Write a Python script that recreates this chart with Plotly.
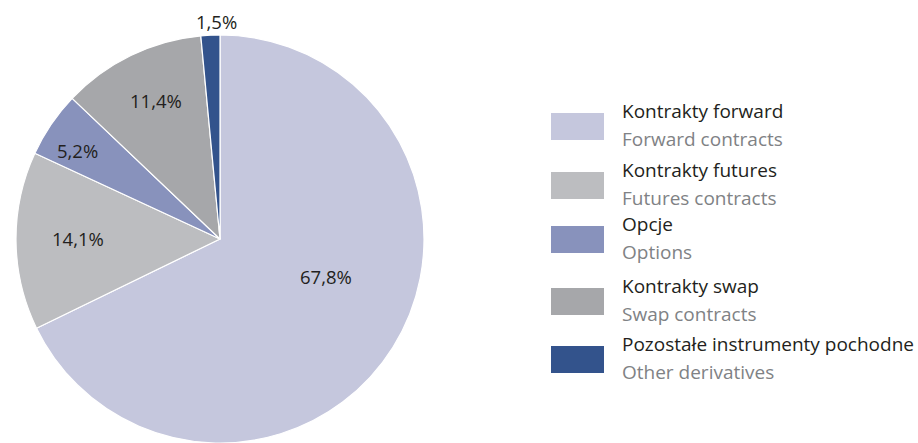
import math
import plotly.graph_objects as go

# Structure of derivative instruments (share of total, %)
labels_pl = ["Kontrakty forward", "Kontrakty futures", "Opcje", "Kontrakty swap",
             "Pozostałe instrumenty pochodne"]
labels_en = ["Forward contracts", "Futures contracts", "Options", "Swap contracts",
             "Other derivatives"]
shares = [67.8, 14.1, 5.2, 11.4, 1.5]

colors = ["#C5C7DD", "#BCBDC0", "#8892BC", "#A6A7AA", "#33538C"]

W, H = 918, 443
FONT = "Open Sans"
DARK = "#231F20"
GREY = "#808285"

# pie geometry in pixels
cx, cy, R = 220, 239, 204

# label placement per slice: (radius fraction, angular nudge in degrees)
label_place = [(0.553, -12.7), (0.698, 0.9), (0.822, -2.3), (0.747, 1.0), (1.066, 1.8)]

fig = go.Figure(go.Pie(
    labels=labels_pl,
    values=shares,
    sort=False,
    direction="clockwise",
    rotation=0,
    marker=dict(colors=colors, line=dict(color="white", width=1.2)),
    textinfo="none",
    hoverinfo="label+percent",
    showlegend=False,
    domain=dict(x=[(cx - R) / W, (cx + R) / W], y=[(H - cy - R) / H, (H - cy + R) / H]),
))

annotations = []
shapes = []

# percentage labels positioned from the cumulative slice angles
total = sum(shares)
cum = 0.0
for v, (rf, nudge) in zip(shares, label_place):
    mid = (cum + v / 2) / total * 360.0 + nudge
    cum += v
    a = math.radians(mid)
    px = cx + rf * R * math.sin(a)
    py = cy - rf * R * math.cos(a)
    annotations.append(dict(
        x=px / W, y=1 - py / H, xref="paper", yref="paper",
        text=f"{v:.1f}%".replace(".", ","), showarrow=False,
        xanchor="center", yanchor="middle",
        font=dict(family=FONT, size=18.5, color=DARK),
    ))

# legend: colour box with Polish name and English name below
box_tops = [113, 172, 226, 288, 346]
box_x0, box_x1, box_h = 551, 604, 27
text_x = 620
for top, c, pl, en in zip(box_tops, colors, labels_pl, labels_en):
    shapes.append(dict(
        type="rect", xref="paper", yref="paper",
        x0=box_x0 / W, x1=box_x1 / W, y0=1 - (top + box_h) / H, y1=1 - top / H,
        fillcolor=c, line=dict(width=0),
    ))
    annotations.append(dict(
        x=text_x / W, y=1 - (top - 2) / H, xref="paper", yref="paper",
        text=pl, showarrow=False, xanchor="left", yanchor="middle",
        font=dict(family=FONT, size=19, color=DARK),
    ))
    annotations.append(dict(
        x=text_x / W, y=1 - (top + 26) / H, xref="paper", yref="paper",
        text=en, showarrow=False, xanchor="left", yanchor="middle",
        font=dict(family=FONT, size=19, color=GREY),
    ))

fig.update_layout(
    width=W, height=H,
    margin=dict(l=0, r=0, t=0, b=0),
    paper_bgcolor="white",
    plot_bgcolor="white",
    annotations=annotations,
    shapes=shapes,
)

fig.write_html("out.html")
